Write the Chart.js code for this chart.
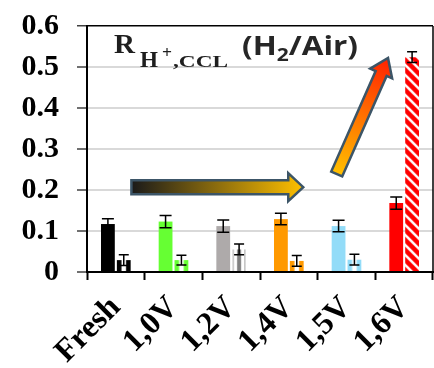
<!DOCTYPE html>
<html>
<head>
<meta charset="utf-8">
<script src="https://cdn.jsdelivr.net/npm/chart.js@4.4.0/dist/chart.umd.min.js"></script>
<style>
  html, body { margin: 0; padding: 0; background: #fff; }
</style>
</head>
<body>
<canvas id="chart" width="434" height="368"></canvas>
<script>
// data
const categories = ['Fresh', '1,0V', '1,2V', '1,4V', '1,5V', '1,6V'];
const firstValues = [0.117, 0.123, 0.112, 0.129, 0.112, 0.168];
const firstErrors = [0.013, 0.015, 0.015, 0.014, 0.014, 0.015];
const secondValues = [0.029, 0.029, 0.055, 0.027, 0.030, 0.524];
const secondErrors = [0.013, 0.012, 0.013, 0.013, 0.013, 0.013];
const yTicks = [0, 0.1, 0.2, 0.3, 0.4, 0.5, 0.6];

const barColors = ['#000000', '#66ff33', '#aeaaaa', '#ff9900', '#93dcf8', '#ff0000'];
const CAT_PCT = 0.55;
const BAR_PCT = 0.87;

// pattern fill for the second bar of each group, anchored at the bar's left edge
function secondFill(c) {
    const chart = c.chart;
    const xs = chart.scales.x;
    const i = c.dataIndex;
    if (!xs || i === undefined || !xs.width) return barColors[i || 0];
    const catW = xs.width / categories.length;
    const slot = catW * CAT_PCT / 2;
    const w = slot * BAR_PCT;
    const left = xs.getPixelForValue(i) + slot / 2 - w / 2;

    const off = document.createElement('canvas');
    const pc = off.getContext('2d');
    if (i === 5) {
        off.width = 10; off.height = 10;
        pc.fillStyle = '#fff';
        pc.fillRect(0, 0, 10, 10);
        pc.strokeStyle = barColors[5];
        pc.lineWidth = 4.5;
        for (let k = -1; k <= 1; k++) {
            pc.beginPath();
            pc.moveTo(k * 10 - 2, -2);
            pc.lineTo(k * 10 + 12, 12);
            pc.stroke();
        }
    } else if (i === 2) {
        off.width = Math.ceil(w) + 1; off.height = 1;
        pc.fillStyle = '#fff';
        pc.fillRect(0, 0, off.width, 1);
        pc.fillStyle = '#9a9a9a';
        pc.fillRect(0.5, 0, 1, 1);
        pc.fillRect(w - 1.5, 0, 1, 1);
        pc.fillStyle = '#7f7f7f';
        pc.fillRect(w / 2 - 2, 0, 4, 1);
    } else {
        off.width = Math.ceil(w) + 1; off.height = 1;
        pc.fillStyle = barColors[i];
        pc.fillRect(0, 0, off.width, 1);
        pc.fillStyle = '#fff';
        pc.fillRect(w / 3, 0, w / 3, 1);
    }
    const pat = c.chart.ctx.createPattern(off, 'repeat');
    pat.setTransform(new DOMMatrix().translate(left, 0));
    return pat;
}

const errorBars = {
    id: 'errorBars',
    afterDatasetsDraw(chart) {
        const ctx = chart.ctx;
        const y = chart.scales.y;
        [firstErrors, secondErrors].forEach((errs, d) => {
            const vals = chart.data.datasets[d].data;
            chart.getDatasetMeta(d).data.forEach((bar, i) => {
                const top = y.getPixelForValue(vals[i] + errs[i]);
                const bot = y.getPixelForValue(vals[i] - errs[i]);
                const cap = d === 0 ? 6 : 5;
                ctx.save();
                ctx.strokeStyle = '#000';
                ctx.lineWidth = 1.5;
                ctx.beginPath();
                ctx.moveTo(bar.x, top); ctx.lineTo(bar.x, bot);
                ctx.moveTo(bar.x - cap, top); ctx.lineTo(bar.x + cap, top);
                ctx.moveTo(bar.x - cap, bot); ctx.lineTo(bar.x + cap, bot);
                ctx.stroke();
                ctx.restore();
            });
        });
    }
};

function drawArrow(ctx, tx, ty, px, py, w, hw, hl, c0, c1) {
    const len = Math.hypot(px - tx, py - ty);
    const ux = (px - tx) / len, uy = (py - ty) / len;
    const nx = -uy, ny = ux;
    const bx = px - ux * hl, by = py - uy * hl;
    ctx.save();
    const g = ctx.createLinearGradient(tx, ty, px, py);
    g.addColorStop(0, c0);
    g.addColorStop(1, c1);
    ctx.beginPath();
    ctx.moveTo(tx + nx * w, ty + ny * w);
    ctx.lineTo(bx + nx * w, by + ny * w);
    ctx.lineTo(bx + nx * hw, by + ny * hw);
    ctx.lineTo(px, py);
    ctx.lineTo(bx - nx * hw, by - ny * hw);
    ctx.lineTo(bx - nx * w, by - ny * w);
    ctx.lineTo(tx - nx * w, ty - ny * w);
    ctx.closePath();
    ctx.fillStyle = g;
    ctx.fill();
    ctx.lineWidth = 2.5;
    ctx.lineJoin = 'miter';
    ctx.strokeStyle = '#3c5567';
    ctx.stroke();
    ctx.restore();
}

// draw text squeezed or stretched to a given width
function fitText(ctx, text, x, y, width) {
    const w = ctx.measureText(text).width;
    ctx.save();
    ctx.translate(x, y);
    ctx.scale(width / w, 1);
    ctx.fillText(text, 0, 0);
    ctx.restore();
}

const decorations = {
    id: 'decorations',
    afterDatasetsDraw(chart) {
        const ctx = chart.ctx;
        const xs = chart.scales.x, ys = chart.scales.y;
        const area = chart.chartArea;

        // right frame line
        ctx.save();
        ctx.strokeStyle = '#000';
        ctx.lineWidth = 1.5;
        ctx.beginPath();
        ctx.moveTo(area.right, area.top);
        ctx.lineTo(area.right, area.bottom);
        ctx.stroke();
        ctx.restore();

        // trend arrows
        drawArrow(ctx, xs.getPixelForValue(0.27), ys.getPixelForValue(0.207),
            xs.getPixelForValue(3.25), ys.getPixelForValue(0.207), 7, 14, 15, '#1a1a1a', '#ffc000');
        drawArrow(ctx, xs.getPixelForValue(3.83), ys.getPixelForValue(0.239),
            xs.getPixelForValue(4.72), ys.getPixelForValue(0.522), 6, 12, 17, '#ffc000', '#ff2200');

        // title inside the plot
        const x0 = area.left;
        const base = area.top + 27;
        ctx.save();
        ctx.fillStyle = '#1e1e1e';
        ctx.textBaseline = 'alphabetic';
        ctx.font = 'bold 28px "Liberation Serif"';
        fitText(ctx, 'R', x0 + 27, base, 21);
        ctx.font = 'bold 24px "Liberation Serif"';
        fitText(ctx, 'H', x0 + 53, base + 14, 18);
        ctx.font = 'bold 16px "Liberation Serif"';
        fitText(ctx, '+', x0 + 75, base + 5, 10);
        ctx.font = 'bold 17px "Liberation Serif"';
        fitText(ctx, ',CCL', x0 + 86, base + 14, 55);

        ctx.fillStyle = '#262626';
        ctx.font = 'bold 27px "Open Sans"';
        const p1 = '(H', p2 = '2', p3 = '/Air)';
        const w1 = ctx.measureText(p1).width, w3 = ctx.measureText(p3).width;
        ctx.font = 'bold 18px "Open Sans"';
        const w2 = ctx.measureText(p2).width;
        const sx = 116 / (w1 + w2 + w3);
        ctx.translate(x0 + 155, base + 2);
        ctx.scale(sx, 1);
        ctx.font = 'bold 27px "Open Sans"';
        ctx.fillText(p1, 0, 0);
        ctx.font = 'bold 18px "Open Sans"';
        ctx.fillText(p2, w1, 6);
        ctx.font = 'bold 27px "Open Sans"';
        ctx.fillText(p3, w1 + w2, 0);
        ctx.restore();
    }
};

const tickFont = { family: '"Liberation Serif", "Times New Roman", serif', size: 30, weight: 'bold' };

new Chart(document.getElementById('chart'), {
    type: 'bar',
    data: {
        labels: categories,
        datasets: [
            {
                data: firstValues,
                backgroundColor: barColors,
                borderWidth: 0,
                categoryPercentage: CAT_PCT,
                barPercentage: BAR_PCT
            },
            {
                data: secondValues,
                backgroundColor: secondFill,
                borderWidth: 0,
                categoryPercentage: CAT_PCT,
                barPercentage: BAR_PCT
            }
        ]
    },
    options: {
        responsive: false,
        animation: false,
        layout: { padding: { top: 26, right: 1, bottom: 0, left: 0 } },
        plugins: {
            legend: { display: false },
            tooltip: { enabled: false }
        },
        scales: {
            x: {
                offset: true,
                grid: {
                    display: true,
                    offset: true,
                    drawOnChartArea: false,
                    drawTicks: true,
                    tickLength: 8,
                    tickWidth: 2,
                    tickColor: '#000'
                },
                border: { display: true, color: '#000', width: 2 },
                ticks: {
                    color: '#000',
                    font: { family: tickFont.family, size: 32, weight: 'bold' },
                    minRotation: 45,
                    maxRotation: 45,
                    autoSkip: false,
                    padding: 9
                },
                afterFit(scale) {
                    scale.height = 96;
                    scale.paddingLeft = 0;
                    scale.paddingRight = 0;
                }
            },
            y: {
                min: 0,
                max: 0.6,
                afterBuildTicks(scale) {
                    scale.ticks = yTicks.map(v => ({ value: v }));
                },
                ticks: {
                    color: '#000',
                    font: tickFont,
                    padding: 18,
                    callback: v => (v === 0 ? '0' : v.toFixed(1))
                },
                grid: {
                    color: c => (c.tick && c.tick.value >= 0.6 ? '#000' : '#d9d9d9'),
                    lineWidth: c => (c.tick && c.tick.value >= 0.6 ? 1.5 : 2),
                    tickLength: 10,
                    tickWidth: 1.5,
                    tickColor: '#404040'
                },
                border: { color: '#000', width: 2 },
                afterFit(scale) {
                    scale.width = 87;
                    scale.paddingTop = 0;
                    scale.paddingBottom = 0;
                }
            }
        }
    },
    plugins: [errorBars, decorations]
});
</script>
</body>
</html>
